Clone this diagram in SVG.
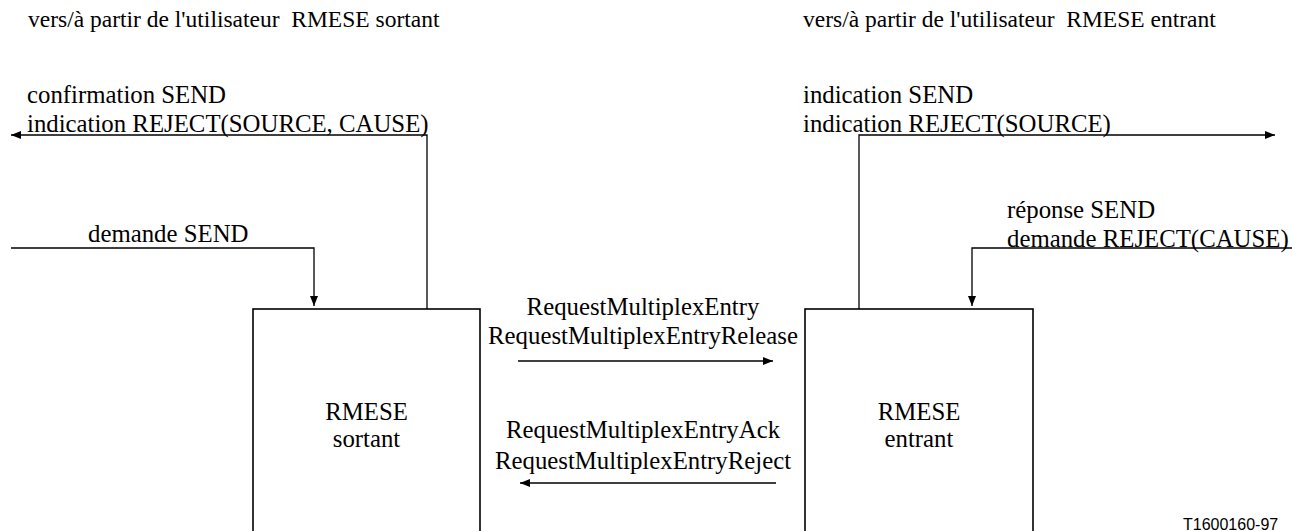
<svg xmlns="http://www.w3.org/2000/svg" width="1292" height="531" viewBox="0 0 1292 531">
<style>
.t{font-family:"Liberation Serif","Times New Roman",serif;font-size:24.8px;fill:#000;white-space:pre}
.hdr{font-size:23.5px}
.mid{text-anchor:middle}
.ref{font-family:"Liberation Sans",Arial,sans-serif;font-size:16px;fill:#000}
.box{fill:#fff;stroke:#000;stroke-width:1.6}
.ln{fill:none;stroke:#000;stroke-width:1.3}
</style>
<defs>
<marker id="ah" viewBox="0 0 10 8" refX="10" refY="4" markerWidth="10" markerHeight="8" markerUnits="userSpaceOnUse" orient="auto">
<path d="M0,0 L10,4 L0,8 Z" fill="#000"/>
</marker>
</defs>
<rect width="1292" height="531" fill="#fff"/>
<g id="headers">
<text class="t hdr" x="28" y="27">vers/à partir de l'utilisateur  RMESE sortant</text>
<text class="t hdr" x="803" y="27">vers/à partir de l'utilisateur  RMESE entrant</text>
</g>
<g id="rmese-sortant">
<rect class="box" x="253" y="309" width="227" height="240"/>
<text class="t mid" x="366.5" y="420">RMESE</text>
<text class="t mid" x="366.5" y="447">sortant</text>
</g>
<g id="rmese-entrant">
<rect class="box" x="805" y="309" width="228" height="240"/>
<text class="t mid" x="919" y="420">RMESE</text>
<text class="t mid" x="919" y="447">entrant</text>
</g>
<g id="connectors">
<path class="ln" d="M427,309 V135 H11" marker-end="url(#ah)"/>
<path class="ln" d="M11,248 H314 V306" marker-end="url(#ah)"/>
<path class="ln" d="M859,309 V135 H1275" marker-end="url(#ah)"/>
<path class="ln" d="M1292,248 H972 V306" marker-end="url(#ah)"/>
<path class="ln" d="M518,361 H773" marker-end="url(#ah)"/>
<path class="ln" d="M776,483 H520" marker-end="url(#ah)"/>
</g>
<g id="labels">
<text class="t" x="27" y="103">confirmation SEND</text>
<text class="t" x="27" y="132">indication REJECT(SOURCE, CAUSE)</text>
<text class="t" x="88" y="242">demande SEND</text>
<text class="t" x="803" y="103">indication SEND</text>
<text class="t" x="803" y="132">indication REJECT(SOURCE)</text>
<text class="t" x="1007" y="218">réponse SEND</text>
<text class="t" x="1007" y="247">demande REJECT(CAUSE)</text>
<text class="t mid" x="643" y="315">RequestMultiplexEntry</text>
<text class="t mid" x="643" y="344">RequestMultiplexEntryRelease</text>
<text class="t mid" x="643" y="438">RequestMultiplexEntryAck</text>
<text class="t mid" x="643" y="469">RequestMultiplexEntryReject</text>
<text class="ref" x="1183" y="530">T1600160-97</text>
</g>
</svg>
